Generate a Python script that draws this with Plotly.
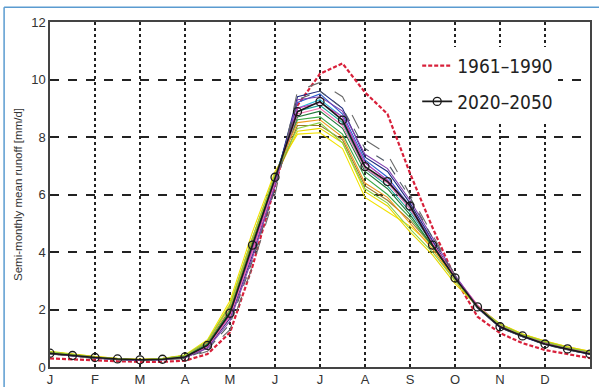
import plotly.graph_objects as go

# x positions: semi-monthly steps (months since 1 Jan)
x_halfmonth = [i * 0.5 for i in range(25)]
month_ticks = [0, 1, 2, 3, 4, 5, 6, 7, 8, 9, 10, 11]
month_labels = ["J", "F", "M", "A", "M", "J", "J", "A", "S", "O", "N", "D"]
y_ticks = [0, 2, 4, 6, 8, 10, 12]

baseline_1961_1990 = [0.30, 0.26, 0.22, 0.20, 0.18, 0.18, 0.22, 0.45, 1.20, 3.50, 6.30, 9.10, 10.20,
                      10.56, 9.55, 8.80, 6.74, 4.85, 3.10, 1.75, 1.18, 0.83, 0.59, 0.45, 0.31]
mean_2020_2050 = [0.48, 0.40, 0.33, 0.28, 0.25, 0.27, 0.35, 0.75, 1.87, 4.24, 6.60, 8.88, 9.23,
                  8.59, 6.97, 6.45, 5.60, 4.24, 3.10, 2.09, 1.40, 1.08, 0.80, 0.63, 0.45]

m_yellow = [0.55, 0.45, 0.36, 0.30, 0.27, 0.30, 0.42, 0.95, 2.30, 4.70, 6.80, 8.10, 8.15, 7.60, 5.90, 5.40, 4.90, 4.20, 3.00, 2.10, 1.50, 1.15, 0.90, 0.70, 0.55]
m_yellow2 = [0.52, 0.44, 0.35, 0.29, 0.26, 0.29, 0.40, 0.90, 2.20, 4.50, 6.60, 8.20, 8.30, 7.80, 6.10, 5.60, 4.70, 3.90, 2.90, 2.10, 1.50, 1.15, 0.90, 0.70, 0.55]
m_olive = [0.50, 0.42, 0.34, 0.28, 0.25, 0.28, 0.38, 0.85, 2.00, 4.40, 6.50, 8.40, 8.40, 7.90, 6.30, 5.80, 5.10, 4.20, 3.10, 2.10, 1.45, 1.10, 0.85, 0.66, 0.50]
m_green = [0.50, 0.41, 0.33, 0.28, 0.25, 0.27, 0.37, 0.80, 1.95, 4.30, 6.60, 8.60, 8.70, 8.10, 6.60, 6.00, 5.20, 4.20, 3.10, 2.10, 1.45, 1.10, 0.85, 0.65, 0.50]
m_darkgreen = [0.48, 0.40, 0.33, 0.27, 0.24, 0.27, 0.36, 0.78, 1.90, 4.20, 6.50, 8.70, 8.90, 8.30, 6.80, 6.20, 5.30, 4.20, 3.10, 2.10, 1.42, 1.08, 0.82, 0.64, 0.48]
m_teal = [0.49, 0.40, 0.33, 0.28, 0.25, 0.27, 0.35, 0.75, 1.85, 4.20, 6.60, 8.90, 9.10, 8.50, 6.90, 6.30, 5.40, 4.30, 3.10, 2.10, 1.40, 1.08, 0.80, 0.63, 0.47]
m_cyan = [0.47, 0.39, 0.32, 0.27, 0.24, 0.26, 0.34, 0.72, 1.80, 4.10, 6.60, 9.00, 9.30, 8.70, 7.10, 6.50, 5.50, 4.30, 3.10, 2.08, 1.40, 1.07, 0.80, 0.62, 0.46]
m_blue = [0.47, 0.39, 0.32, 0.27, 0.24, 0.26, 0.33, 0.70, 1.75, 4.00, 6.50, 9.20, 9.50, 8.80, 7.20, 6.60, 5.60, 4.35, 3.10, 2.08, 1.38, 1.06, 0.79, 0.62, 0.45]
m_navy = [0.46, 0.38, 0.31, 0.26, 0.23, 0.25, 0.32, 0.68, 1.70, 3.90, 6.40, 9.40, 9.60, 9.00, 7.30, 6.80, 5.70, 4.40, 3.10, 2.05, 1.37, 1.05, 0.78, 0.60, 0.44]
m_magenta = [0.48, 0.40, 0.33, 0.28, 0.25, 0.27, 0.34, 0.72, 1.80, 4.10, 6.50, 9.00, 9.20, 8.70, 7.10, 6.50, 5.60, 4.30, 3.15, 2.15, 1.45, 1.10, 0.82, 0.64, 0.47]
m_pink = [0.47, 0.39, 0.32, 0.27, 0.24, 0.26, 0.33, 0.70, 1.75, 4.00, 6.40, 8.80, 9.00, 8.40, 6.90, 6.40, 5.50, 4.30, 3.15, 2.15, 1.45, 1.10, 0.82, 0.64, 0.47]
m_purple = [0.46, 0.38, 0.31, 0.26, 0.23, 0.25, 0.32, 0.65, 1.60, 3.80, 6.30, 9.30, 9.40, 8.90, 7.40, 6.90, 5.80, 4.50, 3.20, 2.10, 1.40, 1.07, 0.80, 0.62, 0.45]
m_gray = [0.45, 0.37, 0.30, 0.25, 0.22, 0.24, 0.30, 0.55, 1.30, 3.50, 6.00, 9.60, 9.90, 9.40, 7.90, 7.40, 6.00, 4.60, 3.20, 2.05, 1.38, 1.05, 0.78, 0.60, 0.44]
m_gray2 = [0.46, 0.38, 0.31, 0.26, 0.23, 0.25, 0.31, 0.60, 1.50, 3.70, 6.20, 9.30, 9.60, 9.00, 7.60, 7.10, 5.90, 4.50, 3.15, 2.05, 1.38, 1.05, 0.78, 0.60, 0.44]
m_orange = [0.52, 0.43, 0.35, 0.29, 0.26, 0.29, 0.40, 0.88, 2.10, 4.50, 6.70, 8.50, 8.60, 8.00, 6.40, 5.90, 5.00, 4.10, 3.00, 2.10, 1.48, 1.12, 0.88, 0.68, 0.52]
m_lightgreen = [0.53, 0.44, 0.35, 0.29, 0.26, 0.29, 0.40, 0.90, 2.15, 4.50, 6.70, 8.30, 8.50, 7.80, 6.20, 5.70, 4.80, 4.00, 3.00, 2.10, 1.48, 1.12, 0.88, 0.68, 0.52]

members = [m_yellow, m_yellow2, m_olive, m_green, m_darkgreen, m_teal, m_cyan, m_blue,
           m_navy, m_magenta, m_pink, m_purple, m_gray, m_gray2, m_orange, m_lightgreen]
member_colors = ["#f2e200", "#e8d800", "#9a7a2a", "#3aa845", "#1f7a3a", "#1aa39a", "#29b8d8", "#2f5fd0",
                 "#1c2a80", "#d42ab8", "#f070b0", "#8040b0", "#6a6a6a", "#505a66", "#f09a20", "#8ad040"]
member_dash = ["solid", "solid", "solid", "solid", "solid", "solid", "solid", "solid",
               "solid", "solid", "solid", "solid", "longdash", "dash", "solid", "solid"]

fig = go.Figure()

fig.add_trace(go.Scatter(
    x=x_halfmonth, y=baseline_1961_1990, mode="lines", name="1961–1990",
    line=dict(color="#d8203a", width=2.2, dash="4px,2px"), legendgroup="a"))

for vals, col, dsh in zip(members, member_colors, member_dash):
    fig.add_trace(go.Scatter(x=x_halfmonth, y=vals, mode="lines", showlegend=False,
                             line=dict(color=col, width=1.1, dash=dsh), hoverinfo="skip"))

fig.add_trace(go.Scatter(
    x=x_halfmonth, y=mean_2020_2050, mode="lines+markers", name="2020–2050",
    line=dict(color="#1a1a1a", width=1.6),
    marker=dict(symbol="circle-open", size=8, color="#1a1a1a", line=dict(width=1.3)),
    legendgroup="b"))

fig.update_layout(
    width=599, height=387,
    margin=dict(l=50, r=9, t=22, b=20, autoexpand=False),
    paper_bgcolor="white", plot_bgcolor="white",
    font=dict(family="Liberation Sans, Arial, sans-serif", color="#333"),
    showlegend=True,
    legend=dict(x=0.68, y=0.928, xanchor="left", yanchor="top", bgcolor="white",
                font=dict(family="DejaVu Sans Condensed, Liberation Sans Narrow, Liberation Sans, sans-serif",
                          size=19, color="#222"),
                tracegroupgap=8, itemwidth=30),
    xaxis=dict(range=[0, 12], tickvals=month_ticks, ticktext=month_labels, automargin=False,
               showgrid=True, gridcolor="#222", griddash="dot", gridwidth=1.5,
               showline=True, linecolor="#444", linewidth=1.5, mirror=True,
               ticks="", tickfont=dict(size=13, color="#333"), zeroline=False),
    yaxis=dict(range=[0, 12], tickvals=y_ticks, automargin=False,
               showgrid=True, gridcolor="#222", griddash="dash", gridwidth=1.5,
               showline=True, linecolor="#444", linewidth=1.5, mirror=True,
               ticks="", tickfont=dict(size=13, color="#333"), zeroline=False,
               title=dict(text="Semi-monthly mean runoff [mm/d]", font=dict(size=11.5, color="#333"), standoff=6)),
    shapes=[
        dict(type="line", xref="paper", yref="paper", x0=-0.085, x1=-0.085, y0=-0.06, y1=1.043,
             line=dict(color="#5a9bd0", width=1.5)),
        dict(type="line", xref="paper", yref="paper", x0=-0.085, x1=1.02, y0=1.043, y1=1.043,
             line=dict(color="#5a9bd0", width=1.5)),
    ],
)

fig.write_html("out.html", config={"displayModeBar": False},
               post_script="document.body.style.margin='0';document.body.style.padding='0';")
